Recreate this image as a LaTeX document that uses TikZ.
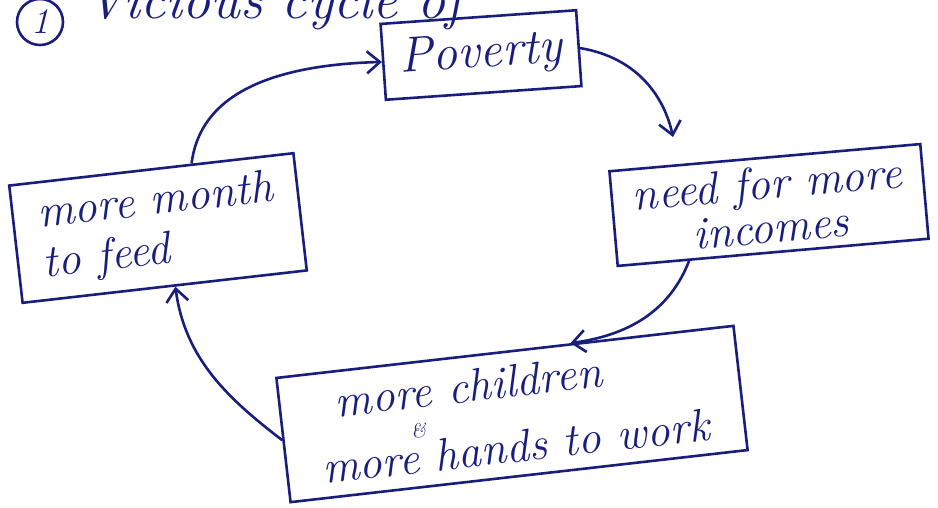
\documentclass[tikz,border=0pt]{standalone}
\usepackage{fontspec}
\usetikzlibrary{arrows.meta,calc}
\definecolor{ink}{RGB}{25,30,125}
\newcommand\mytightlines{\lineskiplimit=-100pt\relax\lineskip=0pt\relax}
\tikzset{
  box/.style={draw=ink, line width=2.6pt, text=ink, font=\fontsize{46}{50}\selectfont\itshape, inner sep=2pt},
  arr/.style={draw=ink, line width=2.6pt, -{Straight Barb[length=13pt,width=22pt,line width=2.6pt]}},
}
\begin{document}
\begin{tikzpicture}[x=1pt,y=-1pt]
\useasboundingbox (0,0) rectangle (938,507);
\node[circle, draw=ink, line width=2.6pt, text=ink, minimum size=46pt, inner sep=0pt, font=\fontsize{36}{36}\selectfont\itshape] (num) at (40,22) {1};
\node[text=ink, font=\fontsize{56}{56}\selectfont\itshape, anchor=base west, inner sep=0pt] (title) at (85,18) {Vicious cycle of};
\node[box, minimum width=196, minimum height=76, rotate=4, font=\fontsize{50}{50}\selectfont\itshape] (pov) at (481,55) {Poverty};
\node[box, minimum width=312, minimum height=95, rotate=5, align=center, font=\fontsize{46}{44}\selectfont\itshape] (need) at (769,205) {need for more\\incomes};
\node[box, minimum width=286, minimum height=118, rotate=6.5, align=left] (mm) at (158,228) {more month\\to feed};
\node[box, minimum width=460, minimum height=125, rotate=6.5, align=left, font=\fontsize{46}{40}\selectfont\itshape\mytightlines] (ch) at (512,414) {\hspace{20pt}more children\\[-10pt]\hspace{92pt}{\fontsize{20}{20}\selectfont\&}\\[-5pt]more hands to work};
\coordinate (a2) at (673,137);
\draw[arr] (mm.56) .. controls (200,95) and (270,65) .. (pov.west);
\draw[arr] (pov.east) .. controls (640,58) and (665,100) .. (a2);
\draw[arr] (need.-150) .. controls (670,310) and (630,335) .. (ch.44);
\draw[arr] (ch.west) .. controls (230,400) and (185,360) .. (mm.-80);
\end{tikzpicture}
\end{document}
